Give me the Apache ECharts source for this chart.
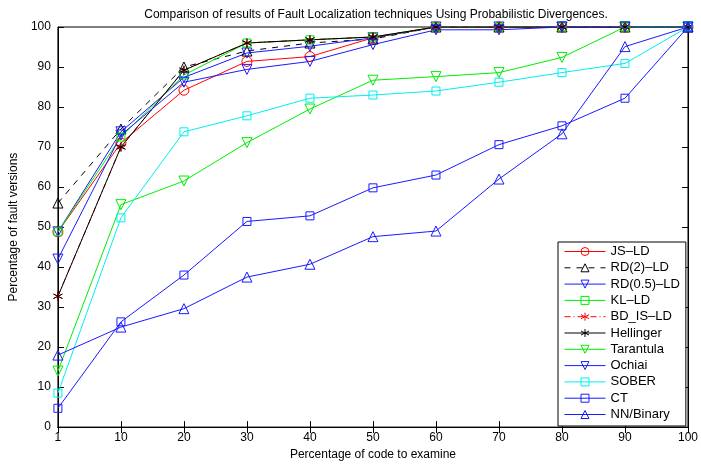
<!DOCTYPE html>
<html>
<head>
<meta charset="utf-8">
<script src="https://cdn.jsdelivr.net/npm/echarts@6/dist/echarts.min.js"></script>
<style>
  html, body { margin: 0; padding: 0; background: #fff; }
  #chart { width: 701px; height: 466px; }
</style>
</head>
<body>
<div id="chart"></div>
<script>
// x categories (percentage of code examined)
const categories = ["1", "10", "20", "30", "40", "50", "60", "70", "80", "90", "100"];

const jsLD      = [48.8, 71.0, 84.2, 91.4, 92.6, 97.3, 100, 100, 100, 100, 100];
const rd2LD     = [56.0, 74.5, 90.0, 94.0, 96.0, 97.0, 100, 100, 100, 100, 100];
const rd05LD    = [48.8, 73.8, 87.4, 93.5, 95.2, 97.3, 100, 100, 100, 100, 100];
const klLD      = [48.8, 72.5, 88.0, 96.0, 96.8, 97.5, 100, 100, 100, 100, 100];
const bdisLD    = [32.7, 70.0, 89.2, 96.0, 96.8, 97.5, 100, 100, 100, 100, 100];
const hellinger = [32.7, 70.0, 89.2, 96.0, 96.8, 97.5, 100, 100, 100, 100, 100];
const tarantula = [14.0, 55.6, 61.5, 71.1, 79.5, 86.7, 87.6, 88.6, 92.4, 100, 100];
const ochiai    = [42.0, 73.0, 86.2, 89.4, 91.4, 95.6, 99.3, 99.3, 100, 100, 100];
const sober     = [8.5, 52.3, 73.8, 77.8, 82.2, 83.0, 84.0, 86.2, 88.6, 90.9, 100];
const ct        = [4.7, 26.3, 38.0, 51.4, 52.8, 59.8, 63.0, 70.6, 75.3, 82.2, 100];
const nnBinary  = [18.0, 25.0, 29.6, 37.5, 40.7, 47.6, 49.0, 62.0, 73.3, 95.1, 100];

const yTicks = [0, 10, 20, 30, 40, 50, 60, 70, 80, 90, 100];

const STAR = "path://M0,-1L0,1M-0.87,-0.5L0.87,0.5M-0.87,0.5L0.87,-0.5";

function mk(name, data, color, symbol, size, rotate, lineType) {
    return {
        name: name,
        type: "line",
        data: data,
        symbol: symbol,
        symbolSize: size,
        symbolRotate: rotate || 0,
        lineStyle: { color: color, width: 1, type: lineType || "solid" },
        itemStyle: { color: "transparent", borderColor: color, borderWidth: 1 },
        emphasis: { disabled: true },
        animation: false
    };
}

const series = [
    mk("JS–LD", jsLD, "#ff0000", "circle", 10),
    mk("RD(2)–LD", rd2LD, "#000000", "triangle", 10, 0, [6, 6]),
    mk("RD(0.5)–LD", rd05LD, "#1a1aff", "triangle", 10, 180),
    mk("KL–LD", klLD, "#00ee00", "rect", 8),
    mk("BD_IS–LD", bdisLD, "#ff0000", STAR, 9, 0, [6, 3, 1, 3]),
    mk("Hellinger", hellinger, "#000000", STAR, 9),
    mk("Tarantula", tarantula, "#00ee00", "triangle", 10, 180),
    mk("Ochiai", ochiai, "#1a1aff", "triangle", 10, 180),
    mk("SOBER", sober, "#00eeee", "rect", 8),
    mk("CT", ct, "#1a1aff", "rect", 8),
    mk("NN/Binary", nnBinary, "#1a1aff", "triangle", 10)
];

const chart = echarts.init(document.getElementById("chart"));
const font = "Liberation Sans, Arial, sans-serif";

chart.setOption({
    backgroundColor: "#fff",
    textStyle: { fontFamily: font },
    title: {
        text: "Comparison of results of Fault Localization techniques Using Probabilistic Divergences.",
        left: 371,
        top: 4,
        textAlign: "center",
        textStyle: { fontSize: 12, fontWeight: "normal", color: "#000", fontFamily: font }
    },
    legend: {
        orient: "vertical",
        left: 558,
        top: 242,
        padding: [3, 6, 5, 6],
        itemWidth: 41,
        itemHeight: 10,
        itemGap: 3.3,
        backgroundColor: "#fff",
        borderColor: "#000",
        borderWidth: 1,
        borderRadius: 0,
        lineStyle: { width: 1 },
        itemStyle: { borderWidth: 1 },
        textStyle: { fontSize: 13, color: "#000", fontFamily: font },
        data: series.map(s => s.name)
    },
    grid: { left: 52, right: 8, top: 27, bottom: 34, show: true, borderColor: "#000", borderWidth: 1 },
    xAxis: [{
        type: "category",
        data: categories,
        boundaryGap: false,
        name: "Percentage of code to examine",
        nameLocation: "middle",
        nameGap: 20,
        nameTextStyle: { fontSize: 12, color: "#000" },
        axisLine: { lineStyle: { color: "#000" } },
        axisTick: { inside: true, length: 6, lineStyle: { color: "#000" } },
        axisLabel: { fontSize: 12, color: "#000", margin: 5 },
        splitLine: { show: false }
    }, {
        type: "category",
        data: categories,
        boundaryGap: false,
        position: "top",
        axisLine: { lineStyle: { color: "#000" } },
        axisTick: { inside: true, length: 6, lineStyle: { color: "#000" } },
        axisLabel: { show: false },
        splitLine: { show: false }
    }],
    yAxis: [{
        type: "value",
        min: 0,
        max: 100,
        interval: 10,
        name: "Percentage of fault versions",
        nameLocation: "middle",
        nameGap: 34,
        nameTextStyle: { fontSize: 12, color: "#000" },
        axisLine: { show: true, lineStyle: { color: "#000" } },
        axisTick: { show: true, inside: true, length: 6, lineStyle: { color: "#000" } },
        axisLabel: { fontSize: 12, color: "#000", margin: 7,
            formatter: v => yTicks.indexOf(v) >= 0 ? String(v) : "" },
        splitLine: { show: false }
    }, {
        type: "value",
        min: 0,
        max: 100,
        interval: 10,
        position: "right",
        axisLine: { show: true, lineStyle: { color: "#000" } },
        axisTick: { show: true, inside: true, length: 6, lineStyle: { color: "#000" } },
        axisLabel: { show: false },
        splitLine: { show: false }
    }],
    series: series
});
</script>
</body>
</html>
